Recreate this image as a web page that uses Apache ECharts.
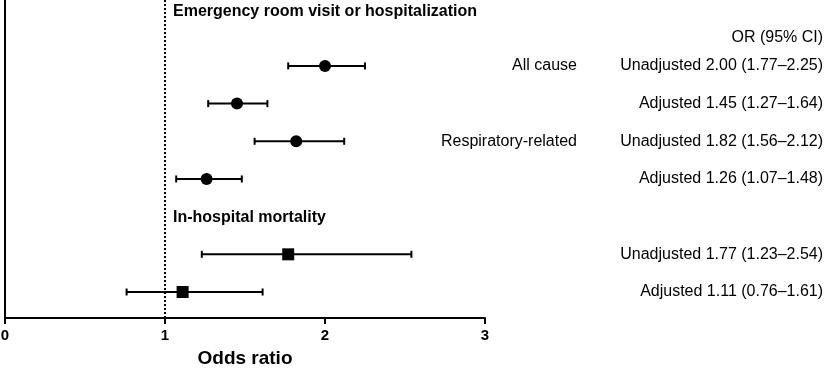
<!DOCTYPE html>
<html>
<head>
<meta charset="utf-8">
<script src="https://cdn.jsdelivr.net/npm/echarts@6/dist/echarts.min.js"></script>
<style>html,body{margin:0;padding:0;background:#fff}#c{width:829px;height:368px}</style>
</head>
<body>
<div id="c"></div>
<script>
// ---- data ----
const rowLabels = ['Unadjusted', 'Adjusted', 'Unadjusted', 'Adjusted', 'Unadjusted', 'Adjusted'];
const groupLabels = ['All cause', '', 'Respiratory-related', '', '', ''];
const oddsRatio = [2.00, 1.45, 1.82, 1.26, 1.77, 1.11];
const ciLow = [1.77, 1.27, 1.56, 1.07, 1.23, 0.76];
const ciHigh = [2.25, 1.64, 2.12, 1.48, 2.54, 1.61];
const rowPos = [0, 1, 2, 3, 5, 6];
const markerShape = ['circle', 'circle', 'circle', 'circle', 'rect', 'rect'];
const headings = ['Emergency room visit or hospitalization', 'In-hospital mortality'];
const headingPos = [-1.43, 4.03];
const columnHeader = 'OR (95% CI)';
const columnHeaderPos = -0.74;
const xTicks = [0, 1, 2, 3];
const refValue = 1;

const FONT = '"Liberation Sans", Arial, sans-serif';
const chart = echarts.init(document.getElementById('c'), null, {renderer: 'canvas'});

const fmt = v => v.toFixed(2);
const rightTexts = rowLabels.map((l, i) => `${l} ${fmt(oddsRatio[i])} (${fmt(ciLow[i])}\u2013${fmt(ciHigh[i])})`);

// x data positions for text columns (outside plotted range)
const xRightCol = 5.113;
const xGroupCol = 3.575;
const xHeading = 1.05;

const errData = rowPos.map((p, i) => [ciLow[i], ciHigh[i], p]);
const pointData = rowPos.map((p, i) => ({value: [oddsRatio[i], p], symbol: markerShape[i]}));
const textData = [];
rowPos.forEach((p, i) => {
  textData.push({value: [xRightCol, p], t: rightTexts[i], align: 'right', bold: false});
  if (groupLabels[i]) textData.push({value: [xGroupCol, p], t: groupLabels[i], align: 'right', bold: false});
});
textData.push({value: [xRightCol, columnHeaderPos], t: columnHeader, align: 'right', bold: false});
headings.forEach((h, i) => textData.push({value: [xHeading, headingPos[i]], t: h, align: 'left', bold: true}));

chart.setOption({
  animation: false,
  backgroundColor: '#fff',
  grid: {left: 5, right: 344, top: 0, bottom: 50, containLabel: false, outerBoundsMode: 'none'},
  xAxis: {
    type: 'value', min: 0, max: 3, interval: 1,
    axisLine: {show: true, onZero: false, lineStyle: {color: '#000', width: 2}},
    axisTick: {show: true, length: 6, lineStyle: {color: '#000', width: 2}},
    axisLabel: {color: '#000', fontWeight: 'bold', fontSize: 15, fontFamily: FONT, margin: 10,
      formatter: v => xTicks.includes(v) ? String(v) : ''},
    splitLine: {show: false},
    name: 'Odds ratio', nameLocation: 'middle', nameGap: 31,
    nameTextStyle: {color: '#000', fontWeight: 'bold', fontSize: 19, fontFamily: FONT}
  },
  yAxis: {
    type: 'value', inverse: true, min: -1.75, max: 6.69,
    axisLine: {show: true, onZero: false, lineStyle: {color: '#000', width: 2}},
    axisTick: {show: false}, axisLabel: {show: false}, splitLine: {show: false}
  },
  series: [
    {
      type: 'custom',
      data: errData,
      encode: {x: [0, 1], y: 2},
      renderItem: (params, api) => {
        const y = api.value(2);
        const a = api.coord([api.value(0), y]);
        const b = api.coord([api.value(1), y]);
        const h = 3.5;
        const st = {stroke: '#000', lineWidth: 2};
        return {type: 'group', children: [
          {type: 'line', shape: {x1: a[0], y1: a[1], x2: b[0], y2: b[1]}, style: st},
          {type: 'line', shape: {x1: a[0], y1: a[1] - h, x2: a[0], y2: a[1] + h}, style: st},
          {type: 'line', shape: {x1: b[0], y1: b[1] - h, x2: b[0], y2: b[1] + h}, style: st}
        ]};
      },
      z: 2
    },
    {
      type: 'scatter',
      data: pointData,
      symbolSize: 12,
      itemStyle: {color: '#000', opacity: 1},
      z: 3,
      markLine: {
        silent: true, symbol: 'none', label: {show: false},
        lineStyle: {color: '#000', width: 2, type: [2, 2]},
        data: [{xAxis: refValue}]
      }
    },
    {
      type: 'custom',
      clip: false,
      data: textData.map(d => d.value),
      renderItem: (params, api) => {
        const d = textData[params.dataIndex];
        const p = api.coord([api.value(0), api.value(1)]);
        return {type: 'text', x: p[0], y: p[1], style: {
          text: d.t, fill: '#000', align: d.align, verticalAlign: 'middle',
          font: (d.bold ? 'bold ' : '') + '16px ' + FONT
        }};
      },
      z: 4
    }
  ]
});
</script>
</body>
</html>
